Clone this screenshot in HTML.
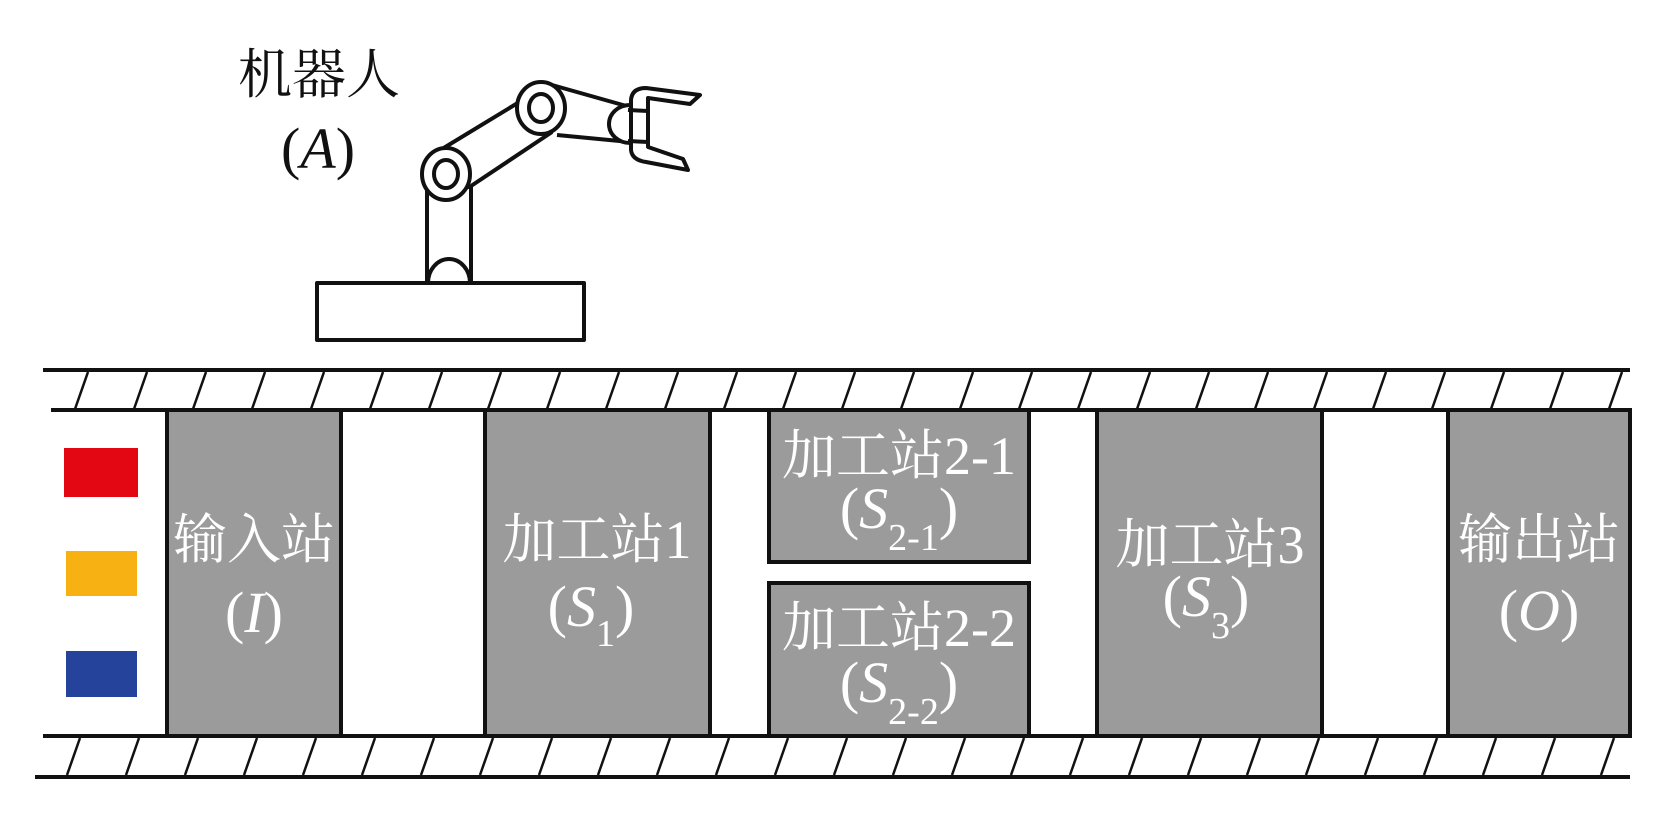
<!DOCTYPE html>
<html><head><meta charset="utf-8"><style>
html,body{margin:0;padding:0;background:#fff;}
svg{display:block;}
.t{font-family:"Liberation Serif","Noto Serif CJK SC",serif;fill:#fff;font-size:54px;}
.k{font-family:"Liberation Serif","Noto Serif CJK SC",serif;fill:#111;font-size:54px;}
.p{font-size:58px;}
</style></head><body>
<svg width="1677" height="821" viewBox="0 0 1677 821" xmlns="http://www.w3.org/2000/svg">
<text class="k" x="319" y="93" text-anchor="middle">机器人</text>
<text class="k p" x="318" y="168" text-anchor="middle">(<tspan font-style="italic">A</tspan>)</text>
<g fill="none" stroke="#111" stroke-width="4" stroke-linejoin="round">
<rect x="317" y="283" width="267" height="57" fill="#fff"/>
<rect x="427" y="187" width="44" height="96" fill="#fff"/>
<path d="M428 283 A21 24 0 0 1 470 283" />
<line x1="442" y1="149" x2="521" y2="101"/>
<line x1="471" y1="186" x2="552" y2="132"/>
<line x1="552" y1="85" x2="630" y2="107"/>
<line x1="557" y1="135" x2="630" y2="142"/>
<ellipse cx="446" cy="174" rx="24" ry="26" fill="#fff"/>
<ellipse cx="446" cy="174" rx="12" ry="14"/>
<ellipse cx="541" cy="108" rx="24" ry="26" fill="#fff"/>
<ellipse cx="541" cy="108" rx="12" ry="14"/>
<path d="M630 105 A21 19 0 0 0 630 143" fill="#fff"/>
<path d="M648 147 L648 98 L690 104 L700 95 L646 88 Q632 88 631 100 L631 150 Q632 160 646 162 L688 170 L683 159 Z" fill="#fff"/>
<line x1="628" y1="110" x2="648" y2="111"/>
<line x1="628" y1="141" x2="648" y2="142"/>
</g>
<g stroke="#111" stroke-width="4">
<line x1="43" y1="370" x2="1630" y2="370"/>
<line x1="51" y1="410" x2="1630" y2="410"/>
<line x1="43" y1="736" x2="1630" y2="736"/>
<line x1="35" y1="777" x2="1630" y2="777"/>
</g>
<g stroke="#111" stroke-width="2.5" id="h1">
<line x1="88" y1="372" x2="75" y2="409"/><line x1="147" y1="372" x2="134" y2="409"/><line x1="206" y1="372" x2="193" y2="409"/><line x1="265" y1="372" x2="252" y2="409"/><line x1="324" y1="372" x2="311" y2="409"/><line x1="383" y1="372" x2="370" y2="409"/><line x1="442" y1="372" x2="429" y2="409"/><line x1="501" y1="372" x2="488" y2="409"/><line x1="560" y1="372" x2="547" y2="409"/><line x1="619" y1="372" x2="606" y2="409"/><line x1="678" y1="372" x2="665" y2="409"/><line x1="737" y1="372" x2="724" y2="409"/><line x1="796" y1="372" x2="783" y2="409"/><line x1="855" y1="372" x2="842" y2="409"/><line x1="914" y1="372" x2="901" y2="409"/><line x1="973" y1="372" x2="960" y2="409"/><line x1="1032" y1="372" x2="1019" y2="409"/><line x1="1091" y1="372" x2="1078" y2="409"/><line x1="1150" y1="372" x2="1137" y2="409"/><line x1="1209" y1="372" x2="1196" y2="409"/><line x1="1268" y1="372" x2="1255" y2="409"/><line x1="1327" y1="372" x2="1314" y2="409"/><line x1="1386" y1="372" x2="1373" y2="409"/><line x1="1445" y1="372" x2="1432" y2="409"/><line x1="1504" y1="372" x2="1491" y2="409"/><line x1="1563" y1="372" x2="1550" y2="409"/><line x1="1622" y1="372" x2="1609" y2="409"/>
</g>
<use href="#h1" transform="translate(-8,366)"/>
<rect x="64" y="448" width="74" height="49" fill="#e30613"/>
<rect x="66" y="551" width="71" height="45" fill="#f7b112"/>
<rect x="66" y="651" width="71" height="46" fill="#25439a"/>
<g fill="#9b9b9b" stroke="#111" stroke-width="4">
<rect x="167" y="410" width="174" height="326"/>
<rect x="485" y="410" width="225" height="326"/>
<rect x="769" y="410" width="260" height="152"/>
<rect x="769" y="583" width="260" height="153"/>
<rect x="1097" y="410" width="225" height="326"/>
<rect x="1448" y="410" width="182" height="326"/>
</g>
<text class="t" x="254" y="558" text-anchor="middle">输入站</text>
<text class="t p" x="254" y="632" text-anchor="middle">(<tspan font-style="italic">I</tspan>)</text>
<text class="t" x="597" y="558" text-anchor="middle">加工站1</text>
<text class="t p" x="591" y="626" text-anchor="middle">(<tspan font-style="italic">S</tspan><tspan font-size="38" dy="20">1</tspan><tspan dy="-20">)</tspan></text>
<text class="t" x="899" y="474" text-anchor="middle">加工站2-1</text>
<text class="t p" x="899" y="528" text-anchor="middle">(<tspan font-style="italic">S</tspan><tspan font-size="38" dy="22">2-1</tspan><tspan dy="-22">)</tspan></text>
<text class="t" x="899" y="646" text-anchor="middle">加工站2-2</text>
<text class="t p" x="899" y="702" text-anchor="middle">(<tspan font-style="italic">S</tspan><tspan font-size="38" dy="22">2-2</tspan><tspan dy="-22">)</tspan></text>
<text class="t" x="1210" y="563" text-anchor="middle">加工站3</text>
<text class="t p" x="1206" y="616" text-anchor="middle">(<tspan font-style="italic">S</tspan><tspan font-size="38" dy="22">3</tspan><tspan dy="-22">)</tspan></text>
<text class="t" x="1539" y="558" text-anchor="middle">输出站</text>
<text class="t p" x="1539" y="630" text-anchor="middle">(<tspan font-style="italic">O</tspan>)</text>
</svg>
</body></html>
